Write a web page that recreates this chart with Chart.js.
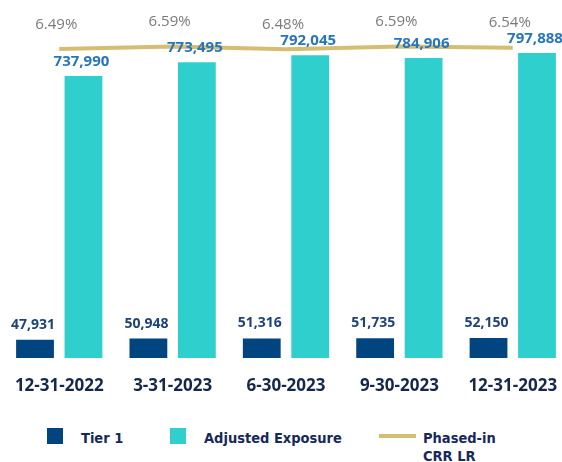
<!DOCTYPE html>
<html>
<head>
<meta charset="utf-8">
<script src="https://cdn.jsdelivr.net/npm/chart.js@4.4.0/dist/chart.umd.min.js"></script>
<style>
  html, body { margin: 0; padding: 0; background: #fff; width: 562px; height: 462px; overflow: hidden; }
  #wrap { position: absolute; left: -3px; top: 0; width: 578px; height: 418px; }
  .lg { position: absolute; font-family: "Liberation Sans Narrow", "DejaVu Sans Condensed", sans-serif;
        font-weight: 700; font-size: 14.5px; line-height: 18px; color: #15295a; }
  .sw { position: absolute; }
</style>
</head>
<body>
<div id="wrap"><canvas id="lrChart" width="578" height="418"></canvas></div>

<div class="sw" style="left:47px; top:428px; width:16px; height:16px; background:#00457f;"></div>
<div class="lg" style="left:81px; top:429px;">Tier 1</div>
<div class="sw" style="left:170px; top:428px; width:16px; height:16px; background:#2ecfcc;"></div>
<div class="lg" style="left:204px; top:429px;">Adjusted Exposure</div>
<div class="sw" style="left:379px; top:434px; width:37px; height:4px; background:#d5bd72;"></div>
<div class="lg" style="left:423px; top:429px;">Phased-in<br>CRR LR</div>

<script>
const quarters = ['12-31-2022', '3-31-2023', '6-30-2023', '9-30-2023', '12-31-2023'];
const tier1 = [47931, 50948, 51316, 51735, 52150];
const adjustedExposure = [737990, 773495, 792045, 784906, 797888];
const crrLeverageRatio = [6.49, 6.59, 6.48, 6.59, 6.54];

// prints the value above each bar and the ratio above each line point
const valueLabels = {
    id: 'valueLabels',
    afterDraw(chart) {
        const ctx = chart.ctx;
        ctx.save();
        ctx.textAlign = 'center';
        ctx.textBaseline = 'middle';
        chart.data.datasets.forEach((ds, i) => {
            const meta = chart.getDatasetMeta(i);
            ctx.font = ds.labelFont;
            ctx.fillStyle = ds.labelColor;
            meta.data.forEach((el, j) => {
                const v = ds.data[j];
                const text = ds.type === 'line' ? v.toFixed(2) + '%' : v.toLocaleString('en-US');
                ctx.fillText(text, el.x + ds.labelDx, el.y - ds.labelDy);
            });
        });
        ctx.restore();
    }
};

new Chart(document.getElementById('lrChart'), {
    data: {
        labels: quarters,
        datasets: [
            {
                type: 'line',
                label: 'Phased-in CRR LR',
                data: crrLeverageRatio,
                yAxisID: 'y2',
                borderColor: '#d5bd72',
                borderWidth: 4,
                pointRadius: 0,
                order: 0,
                labelFont: '400 15px "Open Sans"',
                labelColor: '#7a7a7a',
                labelDx: -3,
                labelDy: 24.5
            },
            {
                type: 'bar',
                label: 'Tier 1',
                data: tier1,
                backgroundColor: '#00457f',
                barPercentage: 0.78,
                categoryPercentage: 0.855,
                order: 1,
                labelFont: '700 14px "Open Sans"',
                labelColor: '#1f4277',
                labelDx: -2,
                labelDy: 15
            },
            {
                type: 'bar',
                label: 'Adjusted Exposure',
                data: adjustedExposure,
                backgroundColor: '#2ecfcc',
                barPercentage: 0.78,
                categoryPercentage: 0.855,
                order: 1,
                labelFont: '700 15px "Open Sans"',
                labelColor: '#2675bd',
                labelDx: -2,
                labelDy: 14.5
            }
        ]
    },
    options: {
        responsive: false,
        animation: false,
        layout: { padding: { left: 2, right: 2.5, top: 14, bottom: 3.6 } },
        plugins: {
            legend: { display: false },
            tooltip: { enabled: false }
        },
        scales: {
            x: {
                grid: { display: false, drawTicks: false },
                border: { display: false },
                ticks: {
                    padding: 18,
                    color: '#14284b',
                    font: { family: 'Open Sans', size: 17, weight: '700' }
                }
            },
            y: { display: false, min: 0, max: 900000 },
            y2: { display: false, min: -6, max: 7.9 }
        }
    },
    plugins: [valueLabels]
});
</script>
</body>
</html>
